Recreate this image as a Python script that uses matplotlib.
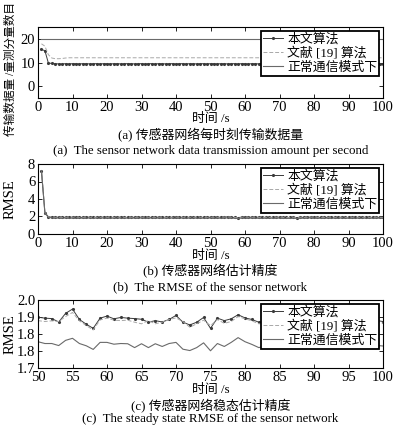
import matplotlib
matplotlib.use("Agg")
import matplotlib.pyplot as plt
import numpy as np

plt.rcParams['font.family'] = ['Liberation Serif', 'Noto Sans CJK SC']
plt.rcParams['axes.unicode_minus'] = False

# ---------------- data ----------------
time_s = list(range(1, 101))

labels = ['本文算法', '文献 [19] 算法', '正常通信模式下']

# (a) transmitted measurement components per second
bits_ours = [15.5, 15.0, 9.8, 9.6, 9.5, 9.4, 9.4, 9.5, 9.4, 9.5,
             9.5, 9.4, 9.5, 9.5, 9.4, 9.5, 9.5, 9.4, 9.5, 9.5,
             9.4, 9.5, 9.5, 9.4, 9.5, 9.5, 9.5, 9.4, 9.5, 9.5,
             9.4, 9.5, 9.5, 9.4, 9.5, 9.5, 9.4, 9.5, 9.5, 9.4,
             9.5, 9.5, 9.4, 9.5, 9.5, 9.4, 9.5, 9.5, 9.4, 9.5,
             9.5, 9.4, 9.5, 9.5, 9.4, 9.5, 9.5, 9.4, 9.5, 9.5,
             9.4, 9.5, 9.5, 9.4, 9.5, 9.5, 9.4, 9.5, 9.5, 9.4,
             9.5, 9.5, 9.4, 9.5, 9.5, 9.4, 9.5, 9.5, 9.4, 9.5,
             9.5, 9.4, 9.5, 9.5, 9.4, 9.5, 9.5, 9.4, 9.5, 9.5,
             9.4, 9.5, 9.5, 9.4, 9.5, 9.5, 9.4, 9.5, 9.5, 9.4]
bits_ref19 = [17.9, 16.9, 13.3, 11.9, 11.6, 11.6, 11.7, 11.9, 12.0, 12.0,
              12.0, 12.0, 12.0, 12.0, 12.0, 12.0, 12.0, 12.0, 12.0, 12.0,
              12.0, 12.0, 12.0, 12.0, 12.0, 12.0, 12.0, 12.0, 12.0, 12.0,
              12.0, 12.0, 12.0, 12.0, 12.0, 12.0, 12.0, 12.0, 12.0, 12.0,
              12.0, 12.0, 12.0, 12.0, 12.0, 12.0, 12.0, 12.0, 12.0, 12.0,
              12.0, 12.0, 12.0, 12.0, 12.0, 12.0, 12.0, 12.0, 12.0, 12.0,
              12.0, 12.0, 12.0, 12.0, 12.0, 12.0, 12.0, 12.0, 12.0, 12.0,
              12.0, 12.0, 12.0, 12.0, 12.0, 12.0, 12.0, 12.0, 12.0, 12.0,
              12.0, 12.0, 12.0, 12.0, 12.0, 12.0, 12.0, 12.0, 12.0, 12.0,
              12.0, 12.0, 12.0, 12.0, 12.0, 12.0, 12.0, 12.0, 12.0, 12.0]
bits_normal = [20, 20, 20, 20, 20, 20, 20, 20, 20, 20,
               20, 20, 20, 20, 20, 20, 20, 20, 20, 20,
               20, 20, 20, 20, 20, 20, 20, 20, 20, 20,
               20, 20, 20, 20, 20, 20, 20, 20, 20, 20,
               20, 20, 20, 20, 20, 20, 20, 20, 20, 20,
               20, 20, 20, 20, 20, 20, 20, 20, 20, 20,
               20, 20, 20, 20, 20, 20, 20, 20, 20, 20,
               20, 20, 20, 20, 20, 20, 20, 20, 20, 20,
               20, 20, 20, 20, 20, 20, 20, 20, 20, 20,
               20, 20, 20, 20, 20, 20, 20, 20, 20, 20]

# (b)/(c) RMSE
rmse_ours = [7.25, 2.45, 1.97, 1.92, 1.91, 1.93, 1.90, 1.92, 1.91, 1.93,
             1.92, 1.90, 1.91, 1.93, 1.92, 1.90, 1.92, 1.91, 1.93, 1.92,
             1.90, 1.91, 1.92, 1.93, 1.91, 1.90, 1.92, 1.91, 1.92, 1.93,
             1.91, 1.92, 1.90, 1.91, 1.93, 1.92, 1.91, 1.90, 1.92, 1.93,
             1.91, 1.92, 1.90, 1.92, 1.91, 1.93, 1.92, 1.90, 1.91,
             1.924, 1.920, 1.918, 1.903, 1.941, 1.960, 1.914, 1.893, 1.875, 1.920,
             1.929, 1.917, 1.923, 1.920, 1.918, 1.915, 1.902, 1.909, 1.903, 1.914,
             1.932, 1.902, 1.890, 1.902, 1.923, 1.875, 1.920, 1.909, 1.917, 1.935,
             1.921, 1.914, 1.902, 1.905, 1.915, 1.920, 1.908, 1.912, 1.925, 1.910,
             1.903, 1.916, 1.921, 1.909, 1.913, 1.918, 1.906, 1.912, 1.920, 1.910,
             1.905]
rmse_ref19 = [7.25, 2.45, 1.96, 1.91, 1.90, 1.92, 1.89, 1.91, 1.90, 1.92,
              1.91, 1.89, 1.90, 1.92, 1.91, 1.89, 1.91, 1.90, 1.92, 1.91,
              1.89, 1.90, 1.91, 1.92, 1.90, 1.89, 1.91, 1.90, 1.91, 1.92,
              1.90, 1.91, 1.89, 1.90, 1.92, 1.91, 1.90, 1.89, 1.91, 1.92,
              1.90, 1.91, 1.89, 1.91, 1.90, 1.92, 1.91, 1.89, 1.90,
              1.909, 1.905, 1.908, 1.905, 1.927, 1.945, 1.908, 1.887, 1.868, 1.912,
              1.920, 1.911, 1.909, 1.911, 1.902, 1.895, 1.909, 1.895, 1.902, 1.914,
              1.921, 1.905, 1.880, 1.895, 1.911, 1.887, 1.914, 1.897, 1.905, 1.927,
              1.917, 1.908, 1.895, 1.898, 1.906, 1.912, 1.900, 1.904, 1.915, 1.901,
              1.896, 1.907, 1.912, 1.900, 1.905, 1.909, 1.898, 1.903, 1.911, 1.902,
              1.898]
rmse_normal = [7.20, 2.40, 1.90, 1.84, 1.82, 1.81, 1.80, 1.82, 1.81, 1.80,
               1.81, 1.82, 1.80, 1.81, 1.82, 1.80, 1.81, 1.81, 1.82, 1.80,
               1.81, 1.80, 1.82, 1.81, 1.80, 1.81, 1.82, 1.80, 1.81, 1.82,
               1.80, 1.81, 1.82, 1.80, 1.81, 1.81, 1.80, 1.82, 1.81, 1.80,
               1.82, 1.81, 1.80, 1.81, 1.82, 1.80, 1.81, 1.80, 1.82,
               1.816, 1.808, 1.808, 1.799, 1.822, 1.831, 1.808, 1.798, 1.782, 1.813,
               1.813, 1.805, 1.808, 1.807, 1.790, 1.807, 1.790, 1.807, 1.795, 1.808,
               1.813, 1.783, 1.777, 1.790, 1.811, 1.776, 1.808, 1.795, 1.813, 1.834,
               1.816, 1.804, 1.790, 1.797, 1.806, 1.812, 1.800, 1.803, 1.815, 1.799,
               1.794, 1.805, 1.811, 1.798, 1.802, 1.808, 1.796, 1.801, 1.809, 1.800,
               1.797]

steady_start = 50
c_yticks = [1.7, 1.775, 1.85, 1.925, 2.0]
c_yticklabels = ['1.7', '1.8', '1.8', '1.9', '2.0']

# ---------------- figure ----------------
W, H = 397, 429
fig = plt.figure(figsize=(W / 100, H / 100), dpi=100)

def ax_rect(left, top, right, bottom):
    return [left / W, 1 - bottom / H, (right - left) / W, (bottom - top) / H]

ax_a = fig.add_axes(ax_rect(38, 27, 383, 98))
ax_b = fig.add_axes(ax_rect(38, 164, 383, 234))
ax_c = fig.add_axes(ax_rect(38, 300, 383, 368))

c_ours = '#3a3a3a'
c_ref = '#a8a8a8'
c_norm = '#6a6a6a'

def style_series(ax, x, y1, y2, y3):
    ax.plot(x, y1, color=c_ours, lw=0.7, marker='.', ms=2.5, label=labels[0])
    ax.plot(x, y2, color=c_ref, lw=0.7, ls=(0, (4, 2)), label=labels[1])
    ax.plot(x, y3, color=c_norm, lw=0.8, label=labels[2])

style_series(ax_a, time_s, bits_ours, bits_ref19, bits_normal)
style_series(ax_b, time_s, rmse_ours, rmse_ref19, rmse_normal)
i0 = time_s.index(steady_start)
style_series(ax_c, time_s[i0:], rmse_ours[i0:], rmse_ref19[i0:], rmse_normal[i0:])

ax_a.set_xlim(0, 100)
ax_a.set_ylim(-5, 25)
ax_a.set_yticks([0, 10, 20])
ax_a.set_xticks(range(0, 101, 10))

ax_b.set_xlim(0, 100)
ax_b.set_ylim(0, 8)
ax_b.set_yticks([0, 2, 4, 6, 8])
ax_b.set_xticks(range(0, 101, 10))

ax_c.set_xlim(50, 100)
ax_c.set_ylim(1.7, 2.0)
ax_c.set_yticks(c_yticks)
ax_c.set_yticklabels(c_yticklabels)
ax_c.set_xticks(range(50, 101, 5))

for ax in (ax_a, ax_b, ax_c):
    ax.tick_params(direction='in', top=True, right=True, length=3, width=0.6,
                   labelsize=10.5, pad=2)
    for s in ax.spines.values():
        s.set_linewidth(0.8)
    leg = ax.legend(loc='upper right', fontsize=9.3, frameon=True, fancybox=False,
                    edgecolor='black', framealpha=1, handlelength=1.6,
                    handletextpad=0.3, labelspacing=0.12, borderpad=0.15,
                    borderaxespad=0.3)
    leg.get_frame().set_linewidth(1.3)

def ftext(x, y, s, **kw):
    fig.text(x / W, 1 - y / H, s, ha='center', va='center', **kw)

# y labels
ftext(11, 69, '传输数据量 /量测分量数目', rotation=90, fontsize=8.4)
ftext(10, 199, 'RMSE', rotation=90, fontsize=10.5)
ftext(10, 334, 'RMSE', rotation=90, fontsize=10.5)

# x labels and captions
xc = 210.5
ftext(xc, 119, '时间 /s', fontsize=9.3)
ftext(xc, 135, '(a) 传感器网络每时刻传输数据量', fontsize=9.3)
ftext(xc, 151, '(a)  The sensor network data transmission amount per second', fontsize=9.3)

ftext(xc, 256, '时间 /s', fontsize=9.3)
ftext(xc, 271, '(b) 传感器网络估计精度', fontsize=9.3)
ftext(xc, 287, '(b)  The RMSE of the sensor network', fontsize=9.3)

ftext(xc, 390, '时间 /s', fontsize=9.3)
ftext(xc, 406, '(c) 传感器网络稳态估计精度', fontsize=9.3)
ftext(xc, 419, '(c)  The steady state RMSE of the sensor network', fontsize=9.3)

fig.savefig('out.png', dpi=100)
